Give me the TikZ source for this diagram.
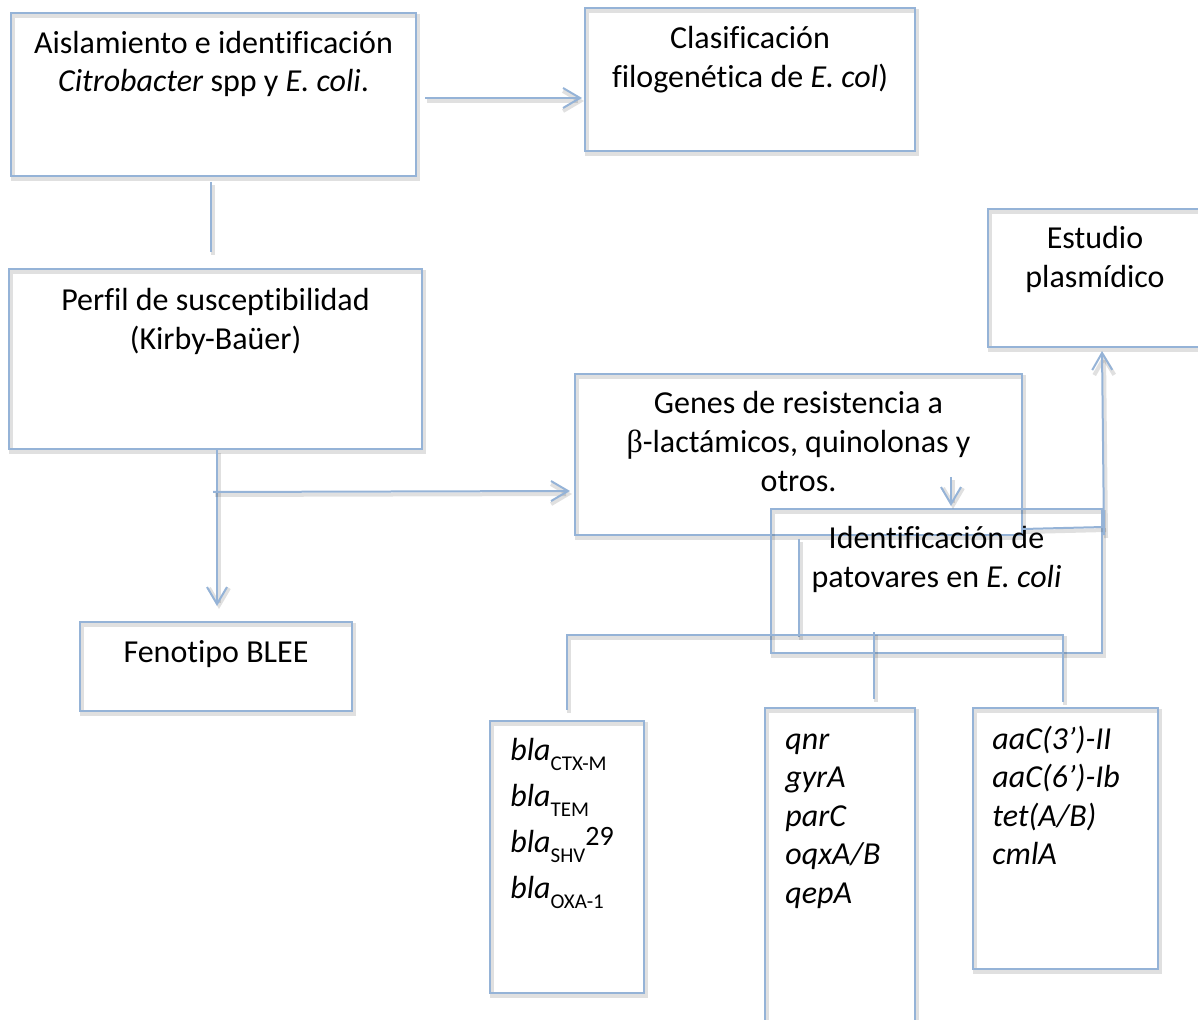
\documentclass[tikz,border=0pt]{standalone}
\usepackage{fontspec}
\setmainfont{Carlito}[Ligatures={TeX,NoCommon}]
\newfontfamily\greekserif{Liberation Serif}
\usetikzlibrary{arrows.meta,calc,fit}
\definecolor{wordblue}{RGB}{149,179,215}
% stacked lines whose baseline is that of the first line
\newcommand\textrows[2][c]{\begin{tabular}[t]{@{}#1@{}}#2\end{tabular}}
% gene subscripts and superscripts
\newcommand\genesub[1]{\raisebox{-5pt}{\fontsize{10.5pt}{12pt}\selectfont\upshape #1}}
\newcommand\genesup[1]{\raisebox{3.6pt}{\fontsize{14pt}{15pt}\selectfont\upshape #1}}
\begin{document}
\begin{tikzpicture}[x=0.5pt,y=-0.5pt,
  shd/.style={preaction={draw=black, draw opacity=0.12, line width=2pt,
      transform canvas={shift={(1pt,-1.5pt)}}}},
  box/.style={draw=wordblue, line width=1pt, inner sep=0pt, shd},
  conn/.style={draw=wordblue, line width=1pt, shd},
  arr/.style={conn, -{Straight Barb[length=8.5pt,width=10pt]}},
  txt/.style={font=\fontsize{16pt}{19.3pt}\selectfont, inner sep=0pt, anchor=base},
  genelist/.style={txt, anchor=base west},
]
\clip (0,0) rectangle (1198,1020);

% boxes
\node[box, fit={(11,13) (416,176)}] (A) {};
\node[box, fit={(585,8) (915,151)}] (B) {};
\node[box, fit={(9,269) (422,449)}] (C) {};
\node[box, fit={(80,622) (352,711)}] (D) {};
\node[box, fit={(575,374) (1022,535)}] (E) {};
\node[box, fit={(988,209) (1206,347)}] (F) {};
\node[box, fit={(771,509) (1102,653)}] (G) {};
\node[box, fit={(490,721) (644,993)}] (H1) {};
\node[box, fit={(765,708) (915,1030)}] (H2) {};
\node[box, fit={(973,708) (1158,969)}] (H3) {};

% box texts
\node[txt] (tA) at ($(A.north)+(0,41.3)$)
  {\textrows{Aislamiento e identificación\\ \textit{Citrobacter} spp y \textit{E. coli}.}};
\node[txt] (tB) at ($(B.north)+(0,42)$)
  {\textrows{Clasificación\\ filogenética de \textit{E. col})}};
\node[txt] (tC) at ($(C.north)+(0,42.7)$)
  {\textrows{Perfil de susceptibilidad\\ (Kirby-Baüer)}};
\node[txt] (tD) at ($(D.north)+(0,41)$) {Fenotipo BLEE};
\node[txt] (tE) at ($(E.north)+(0,41)$)
  {\textrows{Genes de resistencia a\\ {\greekserif β}-lactámicos, quinolonas y\\ otros.}};
\node[txt] (tF) at ($(F.north)+(-2,41)$)
  {\textrows{Estudio\\ plasmídico}};
\node[txt] (tG) at ($(G.north)+(0,41)$)
  {\textrows{Identificación de\\ patovares en \textit{E. coli}}};

% gene lists
\node[genelist, font=\fontsize{16pt}{22.9pt}\selectfont] (tH1) at ($(H1.north west)+(21,40.7)$)
  {\textrows[l]{\textit{bla}\genesub{CTX-M}\\ \textit{bla}\genesub{TEM}\\
    \textit{bla}\genesub{SHV}\genesup{29}\\ \textit{bla}\genesub{OXA-1}}};
\node[genelist] (tH2) at ($(H2.north west)+(21,42)$)
  {\textrows[l]{\itshape qnr\\ \itshape gyrA\\ \itshape parC\\ \itshape oqxA/B\\ \itshape qepA}};
\node[genelist] (tH3) at ($(H3.north west)+(20,42)$)
  {\textrows[l]{\itshape aaC(3’)-II\\ \itshape aaC(6’)-Ib\\ \itshape tet(A/B)\\ \itshape cmlA}};

% connectors
\draw[arr] ($(A.east)+(8,3.5)$) -- ($(B.west)+(-2,18.5)$);
\draw[conn] ($(A.south)+(-2.5,5)$) -- ($(C.north)+(-4.5,-16)$);
\draw[arr] ($(C.south)+(1.5,0)$) -- ($(D.north)+(1,-15)$);
\draw[arr] ($(C.south)+(-2.5,42)$) -- ($(E.west)+(-4,36.5)$);
\draw[arr] ($(G.north)+(14.5,-31)$) -- ($(G.north)+(14.5,-2)$);
\draw[conn] ($(E.south east)+(0,-7)$) -- ($(G.north east)+(1,19)$);
\draw[arr] ($(G.north east)+(1,27)$) -- ($(F.south west)+(115,3)$);
\draw[conn] ($(E.south)+(0,3)$) -- ($(E.south)+(0,101)$);
\draw[conn] ($(H1.north)+(0,-10)$) |- ($(H3.north)+(-2.5,-72)$)
  -- ($(H3.north)+(-2.5,-5)$);
\draw[conn] ($(H2.north)+(34,-75)$) -- ($(H2.north)+(34,-8)$);
\end{tikzpicture}
\end{document}
